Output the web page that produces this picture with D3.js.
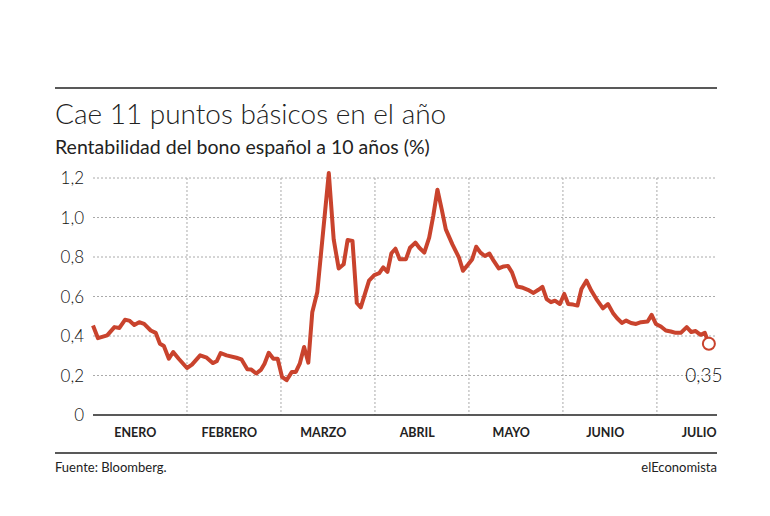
<!DOCTYPE html>
<html><head><meta charset="utf-8">
<script src="https://cdn.jsdelivr.net/npm/d3@7"></script>
<style>
body{margin:0;background:#fff;font-family:Lato,"Open Sans",sans-serif;}
</style></head>
<body><svg></svg>
<script>
const SIZE = { width: 770, height: 516 };
const months = ['ENERO', 'FEBRERO', 'MARZO', 'ABRIL', 'MAYO', 'JUNIO', 'JULIO'];
const yTicks = [0, 0.2, 0.4, 0.6, 0.8, 1.0, 1.2];
// time in months since 1 Jan
const t = [0,.053,.151,.228,.281,.340,.386,.439,.491,.544,.614,.667,.712,.754,.807,.853,.912,1.0,1.053,1.14,
  1.21,1.274,1.316,1.358,1.421,1.526,1.579,1.642,1.684,1.737,1.789,1.825,1.87,1.919,1.965,2.011,2.06,2.116,2.158,2.2,
  2.246,2.291,2.333,2.386,2.509,2.561,2.614,2.667,2.709,2.761,2.807,2.849,2.937,2.993,3.046,3.088,3.133,3.175,3.218,3.263,
  3.33,3.373,3.43,3.472,3.525,3.577,3.62,3.665,3.711,3.754,3.824,3.894,3.937,3.993,4.035,4.077,4.123,4.169,4.218,4.264,
  4.317,4.370,4.415,4.458,4.511,4.563,4.627,4.687,4.739,4.782,4.827,4.873,4.915,4.968,5.014,5.056,5.109,5.155,5.197,5.25,
  5.303,5.356,5.426,5.479,5.532,5.577,5.627,5.673,5.725,5.778,5.831,5.901,5.944,5.989,6.042,6.095,6.148,6.2,6.254,6.317,
  6.366,6.412,6.465,6.51,6.553];
const yieldPct = [.453,.389,.403,.445,.441,.482,.478,.456,.470,.461,.428,.416,.361,.349,.285,.319,.285,.238,.255,.302,
  .290,.263,.272,.314,.302,.290,.282,.232,.230,.210,.230,.260,.315,.285,.285,.193,.176,.218,.218,.260,
  .344,.265,.520,.621,1.225,.889,.742,.763,.886,.881,.567,.545,.680,.708,.718,.747,.725,.819,.842,.789,
  .789,.847,.873,.847,.822,.898,1.007,1.141,1.04,.940,.864,.797,.730,.763,.789,.852,.822,.805,.817,.780,
  .742,.752,.755,.722,.651,.646,.634,.618,.634,.649,.587,.571,.579,.562,.613,.562,.559,.554,.638,.680,
  .629,.587,.540,.562,.517,.490,.466,.478,.466,.461,.470,.473,.507,.461,.448,.428,.423,.416,.416,.445,
  .420,.425,.406,.416,.361];
const lastLabel = '0,35';

const data = t.map((m, i) => ({ t: m, v: yieldPct[i] }));
const fmt = d3.formatLocale({ decimal: ',', thousands: '.', grouping: [3], currency: ['', '€'] });

const svg = d3.select('svg').attr('width', SIZE.width).attr('height', SIZE.height);

const x = d3.scaleLinear().domain([0, 6.65]).range([93, 718]);
const y = d3.scaleLinear().domain([0, 1.2]).range([415, 178]);

svg.append('line').attr('x1', 55).attr('x2', 717).attr('y1', 88).attr('y2', 88)
  .attr('stroke', '#222').attr('stroke-width', 1.5);
svg.append('text').attr('x', 55).attr('y', 124).attr('font-size', 28).attr('font-weight', 300)
  .attr('fill', '#222').text('Cae 11 puntos básicos en el año');
svg.append('text').attr('x', 55).attr('y', 154).attr('font-size', 19.5)
  .attr('fill', '#222').text('Rentabilidad del bono español a 10 años (%)');

// horizontal grid
svg.append('g').selectAll('line').data(yTicks.filter(d => d > 0)).join('line')
  .attr('x1', 93).attr('x2', 717).attr('y1', d => y(d)).attr('y2', d => y(d))
  .attr('stroke', '#aaa').attr('stroke-dasharray', '2,2');
// month separators
svg.append('g').selectAll('line').data(d3.range(1, 7)).join('line')
  .attr('x1', d => x(d)).attr('x2', d => x(d)).attr('y1', 178).attr('y2', 415)
  .attr('stroke', '#aaa').attr('stroke-dasharray', '2,2');

svg.append('g').selectAll('text').data(yTicks).join('text')
  .attr('x', 84).attr('y', d => y(d) + 6).attr('text-anchor', 'end')
  .attr('font-size', 17).attr('font-weight', 300).attr('fill', '#111')
  .text(d => d === 0 ? '0' : fmt.format('.1f')(d));

svg.append('line').attr('x1', 93).attr('x2', 717).attr('y1', 415).attr('y2', 415)
  .attr('stroke', '#222').attr('stroke-width', 1.5);

svg.append('g').selectAll('text').data(months).join('text')
  .attr('x', (d, i) => x(i + 0.45)).attr('y', 437).attr('text-anchor', 'middle')
  .attr('font-size', 12.5).attr('font-weight', 700).attr('fill', '#222').text(d => d);

const line = d3.line().x(d => x(d.t)).y(d => y(d.v));
svg.append('path').attr('d', line(data)).attr('fill', 'none')
  .attr('stroke', '#c9432d').attr('stroke-width', 4).attr('stroke-linejoin', 'round');

const last = data[data.length - 1];
svg.append('circle').attr('cx', x(last.t)).attr('cy', y(last.v)).attr('r', 6)
  .attr('fill', '#fff').attr('stroke', '#c9432d').attr('stroke-width', 2);
svg.append('text').attr('x', x(last.t) - 5).attr('y', 382).attr('text-anchor', 'middle')
  .attr('font-size', 19).attr('font-weight', 300).attr('fill', '#111').text(lastLabel);

svg.append('line').attr('x1', 55).attr('x2', 717).attr('y1', 453).attr('y2', 453)
  .attr('stroke', '#222').attr('stroke-width', 1.5);
svg.append('text').attr('x', 55).attr('y', 472).attr('font-size', 13).attr('fill', '#222')
  .text('Fuente: Bloomberg.');
svg.append('text').attr('x', 717).attr('y', 472).attr('text-anchor', 'end').attr('font-size', 13)
  .attr('fill', '#222').text('elEconomista');
</script></body></html>
